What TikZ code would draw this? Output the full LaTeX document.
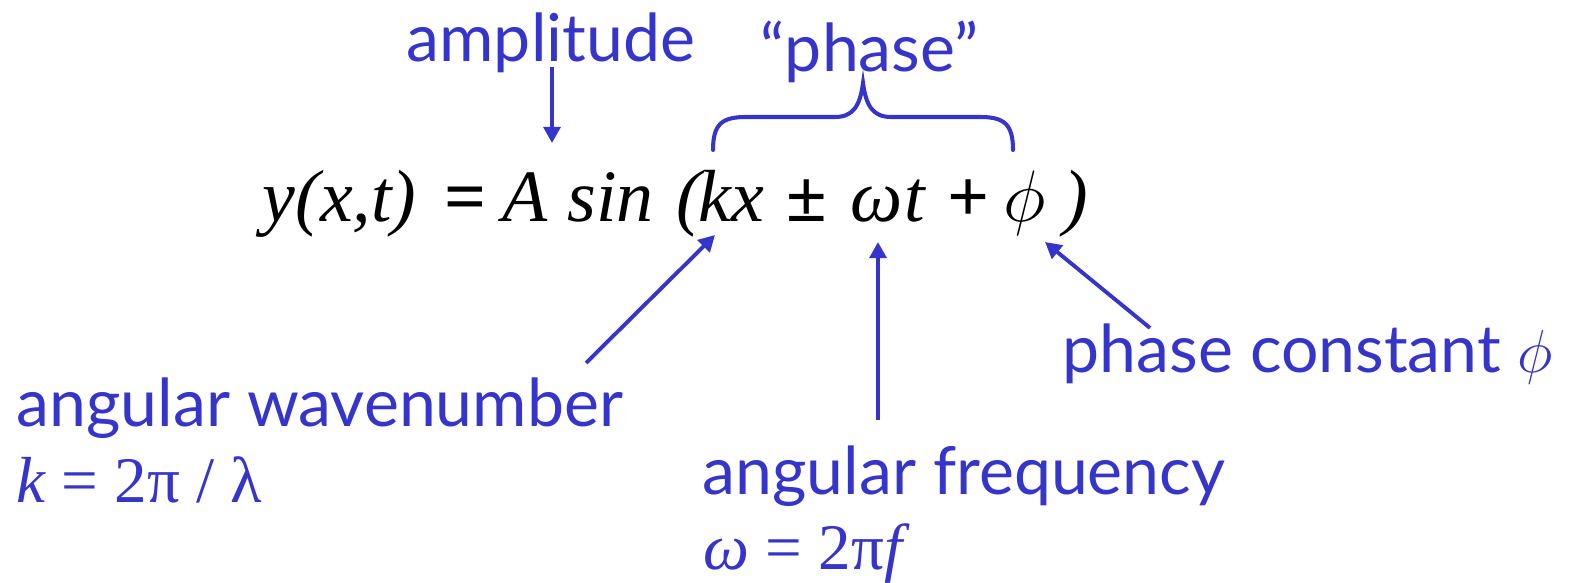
\documentclass[tikz,border=0pt]{standalone}
\usepackage{fontspec}
\setmainfont{Liberation Serif}
\newfontfamily\labelfont{Lato}
\usepackage{tikz}
\usetikzlibrary{arrows.meta}
\definecolor{WaveBlue}{HTML}{3535CC}
\definecolor{WaveInk}{HTML}{000000}
\tikzset{
  pointer/.style={-{Triangle[length=4.6pt,width=4.8pt]},WaveBlue,line width=1.1pt},
  bracepath/.style={WaveBlue,line width=1.15pt,line cap=round},
  tag/.style={text=WaveBlue,font=\labelfont\fontsize{18.8}{22}\selectfont,
              inner sep=0pt,anchor=base west},
  eqpart/.style={text=WaveInk,font=\fontsize{21}{25}\selectfont,
                 inner sep=0pt,anchor=base west},
  eqsign/.style={eqpart,font=\fontsize{21}{25}\selectfont\bfseries},
  subeq/.style={text=WaveBlue,font=\fontsize{18.5}{22}\selectfont,
                inner sep=0pt,anchor=base west},
}

\begin{document}
\begin{tikzpicture}[x=0.01cm,y=-0.01cm]
    \useasboundingbox (0,0) rectangle (1577,583);

    % ------------------------------------------------------------ wave equation
    \node[eqpart] (lhs)  at (262,222)  {\itshape y(x,t)};
    \node[eqsign] (eq)   at (444,222)  {=};
    \node[eqpart] (amp)  at (502,222)  {\itshape A};
    \node[eqpart] (sin)  at (567,222)  {\itshape sin};
    \node[eqpart] (lpar) at (676,222)  {\itshape (};
    \node[eqpart] (kx)   at (698,222)  {\itshape kx};
    \node[eqsign] (pm)   at (786,222)  {±};
    \node[eqpart] (om)   at (850,222)  {\itshape ω};
    \node[eqpart] (tt)   at (904,222)  {\itshape t};
    \node[eqsign] (plus) at (947,222)  {+};
    \node[eqpart] (ph)   at (1003,222) {$\phi$};
    \node[eqpart] (rpar) at (1063,222) {\itshape )};

    % ------------------------------------------------------------------ labels
    \node[tag] (amplitude) at (406,62)  {amplitude};
    \node[tag] (phase)     at (760,72)  {“phase”};
    \node[tag] (phconst)   at (1062,373) {phase constant $\phi$};
    \node[tag] (wavenum)   at (16,427)  {angular wavenumber};
    \node[subeq] (kdef)    at (16,503)  {\itshape k\upshape\ = 2π / λ};
    \node[tag] (angfreq)   at (702,495) {angular frequency};
    \node[subeq] (wdef)    at (703,570) {\itshape ω\upshape\ = 2π\itshape f};

    % -------------------------------------------------------------- the brace
    \draw[bracepath] (713,150) .. controls (713,124) and (722,117) .. (746,117)
      -- (835,117) .. controls (853,117) and (860,106) .. (863,83)
      .. controls (866,106) and (873,117) .. (891,117)
      -- (980,117) .. controls (1004,117) and (1013,124) .. (1013,150);

    % ------------------------------------------------------------------ arrows
    \coordinate (ampFrom) at (552,67);
    \coordinate (ampTo)   at (552,143);
    \coordinate (kxFrom)  at (586,363);
    \coordinate (kxTo)    at (715,235);
    \coordinate (omFrom)  at (878,420);
    \coordinate (omTo)    at (878,242);
    \coordinate (phFrom)  at (1150,328);
    \coordinate (phTo)    at (1045,242);
    \draw[pointer] (ampFrom) -- (ampTo);
    \draw[pointer] (kxFrom) -- (kxTo);
    \draw[pointer] (omFrom) -- (omTo);
    \draw[pointer] (phFrom) -- (phTo);
  \end{tikzpicture}
\end{document}
